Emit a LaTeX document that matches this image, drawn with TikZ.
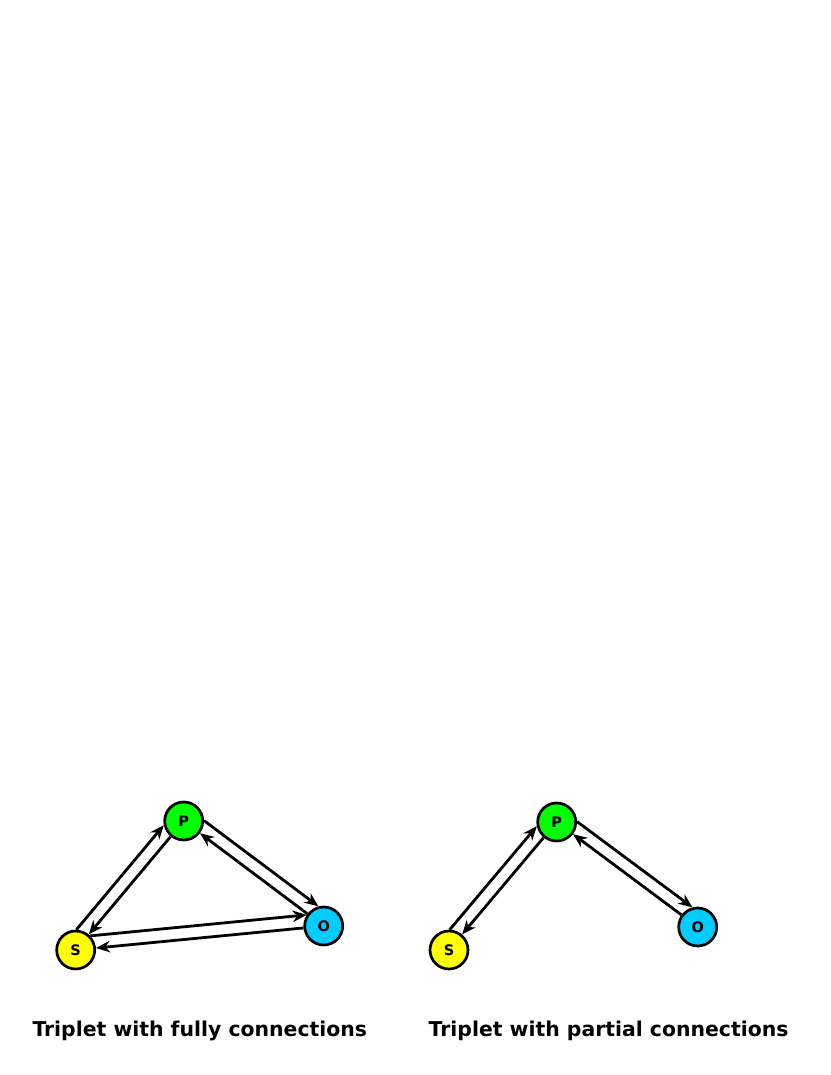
\documentclass[tikz,border=0pt]{standalone}
\usepackage{fontspec}
\setmainfont{DejaVu Sans}
\usepackage{tikz}
\usetikzlibrary{arrows.meta}

\definecolor{subjcol}{RGB}{255,255,0}
\definecolor{predcol}{RGB}{0,255,0}
\definecolor{objcol}{RGB}{0,204,255}

\begin{document}
\begin{tikzpicture}[x=1pt, y=1pt,
    term/.style={circle, draw, line width=2.7pt, minimum size=38pt, inner sep=0pt, font=\fontsize{14.5}{16}\selectfont\bfseries},
    link/.style={line width=2.8pt, -{Stealth[length=14pt, width=11.5pt, inset=4.5pt]}},
    caption/.style={anchor=base west, inner sep=0pt, font=\fontsize{20.4}{24}\selectfont\bfseries}]
    \useasboundingbox (0,0) rectangle (830,1075);
    % fully connected triplet
    \node[term, fill=subjcol] (s1) at (75.7,125) {S};
    \node[term, fill=predcol] (p1) at (183.7,254) {P};
    \node[term, fill=objcol] (o1) at (323.7,149) {O};
    \draw[link] (s1.88) -- (p1.192);
    \draw[link] (p1) -- (s1);
    \draw[link] (p1.1) -- (o1.105);
    \draw[link] (o1) -- (p1);
    \draw[link] (s1.44) -- (o1.147);
    \draw[link] (o1) -- (s1);
    % partially connected triplet
    \node[term, fill=subjcol] (s2) at (449,125) {S};
    \node[term, fill=predcol] (p2) at (556.7,253) {P};
    \node[term, fill=objcol] (o2) at (697.7,148) {O};
    \draw[link] (s2.88) -- (p2.192);
    \draw[link] (p2) -- (s2);
    \draw[link] (p2.1) -- (o2.105);
    \draw[link] (o2) -- (p2);
    \node[caption] (cap1) at (32.3,38.3) {Triplet with fully connections};
    \node[caption] (cap2) at (428.5,38.3) {Triplet with partial connections};
\end{tikzpicture}
\end{document}
